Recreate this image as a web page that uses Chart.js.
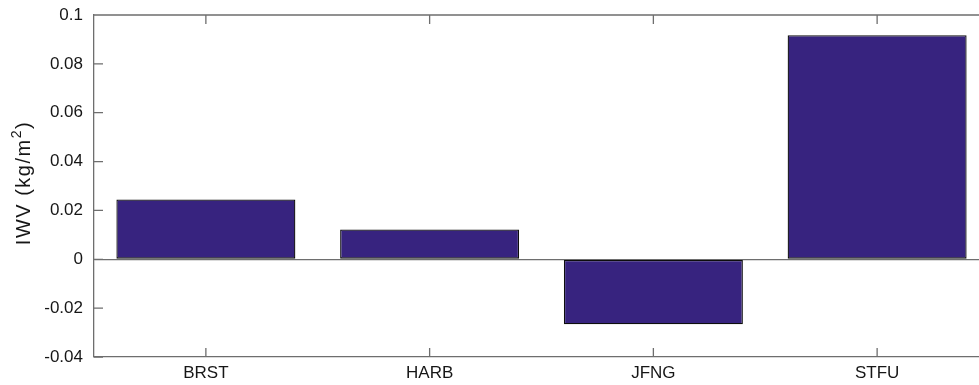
<!DOCTYPE html>
<html>
<head>
<meta charset="utf-8">
<title>IWV by station</title>
<script src="https://cdn.jsdelivr.net/npm/chart.js@4/dist/chart.umd.min.js"></script>
<style>
  html, body { margin: 0; padding: 0; background: #fff; overflow: hidden; }
  #wrap { width: 1000px; height: 385px; position: relative; }
</style>
</head>
<body>
<div id="wrap"><canvas id="chart"></canvas></div>
<script>
// Stations and integrated water vapour differences (kg/m^2)
const stations = ['BRST', 'HARB', 'JFNG', 'STFU'];
const iwvValues = [0.0245, 0.0122, -0.0266, 0.0917];

// Value axis range and step
const yMin = -0.04;
const yMax = 0.1;
const yStep = 0.02;

// Axis title pieces: base text, superscript, closing text
const yTitleParts = ['IWV (kg/m', '2', ')'];

const axisColor = '#6e6e6e';
const textColor = '#161616';
const fontFamily = '"Liberation Sans", Arial, Helvetica, sans-serif';
const TICK_LEN = 9;

// Box frame with inward tick marks on every side
const boxTicks = {
  id: 'boxTicks',
  afterDraw(chart) {
    const { ctx, chartArea: a, scales: { x, y } } = chart;
    ctx.save();
    ctx.strokeStyle = axisColor;
    ctx.lineWidth = 1.3;
    ctx.beginPath();
    ctx.moveTo(a.left, a.top); ctx.lineTo(a.right, a.top);
    ctx.moveTo(a.right, a.top); ctx.lineTo(a.right, a.bottom);
    y.ticks.forEach((t, i) => {
      const py = y.getPixelForTick(i);
      ctx.moveTo(a.left, py); ctx.lineTo(a.left + TICK_LEN, py);
      ctx.moveTo(a.right, py); ctx.lineTo(a.right - TICK_LEN, py);
    });
    x.ticks.forEach((t, i) => {
      const px = x.getPixelForTick(i);
      ctx.moveTo(px, a.bottom); ctx.lineTo(px, a.bottom - TICK_LEN);
      ctx.moveTo(px, a.top); ctx.lineTo(px, a.top + TICK_LEN);
    });
    ctx.stroke();
    ctx.restore();
  }
};

// Rotated y-axis title with a raised exponent
const yTitle = {
  id: 'yTitle',
  afterDraw(chart) {
    const { ctx, chartArea: a } = chart;
    const baseFont = '20px ' + fontFamily;
    const supFont = '14px ' + fontFamily;
    const spacing = 1.5;
    ctx.save();
    ctx.fillStyle = textColor;
    ctx.textBaseline = 'alphabetic';
    ctx.textAlign = 'left';
    ctx.letterSpacing = spacing + 'px';
    const widths = yTitleParts.map((p, i) => {
      ctx.font = i === 1 ? supFont : baseFont;
      return ctx.measureText(p).width;
    });
    const total = widths.reduce((s, w) => s + w, 0);
    const cy = (a.top + a.bottom) / 2 - 3;
    ctx.translate(29.5, cy);
    ctx.rotate(-Math.PI / 2);
    let xPos = -total / 2;
    yTitleParts.forEach((p, i) => {
      ctx.font = i === 1 ? supFont : baseFont;
      ctx.fillText(p, xPos, i === 1 ? -9 : 0);
      xPos += widths[i];
    });
    ctx.restore();
  }
};

new Chart(document.getElementById('chart'), {
  type: 'bar',
  data: {
    labels: stations,
    datasets: [{
      data: iwvValues,
      backgroundColor: '#37237f',
      borderColor: '#0d0d0d',
      borderWidth: 1.3,
      borderSkipped: false,
      categoryPercentage: 1.0,
      barPercentage: 0.8
    }]
  },
  options: {
    responsive: true,
    maintainAspectRatio: false,
    animation: false,
    devicePixelRatio: 1,
    layout: { padding: { top: 15, right: 11, left: 0, bottom: 0 } },
    plugins: { legend: { display: false }, tooltip: { enabled: false } },
    scales: {
      x: {
        offset: true,
        grid: { display: false, drawTicks: false },
        border: { display: true, color: axisColor, width: 1.3 },
        ticks: {
          color: textColor,
          font: { family: fontFamily, size: 17 },
          padding: 6,
          maxRotation: 0
        },
        afterFit(scale) {
          scale.height = 28;
          scale.paddingLeft = 0;
          scale.paddingRight = 0;
        }
      },
      y: {
        min: yMin,
        max: yMax,
        grid: {
          drawTicks: false,
          color: (c) => (c.tick && Math.abs(c.tick.value) < 1e-9 ? axisColor : 'rgba(0,0,0,0)'),
          lineWidth: 1.3
        },
        border: { display: true, color: axisColor, width: 1.3 },
        ticks: {
          stepSize: yStep,
          color: textColor,
          font: { family: fontFamily, size: 17 },
          padding: 11,
          callback: (v) => String(+Number(v).toFixed(2))
        },
        afterFit(scale) {
          scale.width = 94;
          scale.paddingTop = 0;
          scale.paddingBottom = 0;
        }
      }
    }
  },
  plugins: [boxTicks, yTitle]
});
</script>
</body>
</html>
